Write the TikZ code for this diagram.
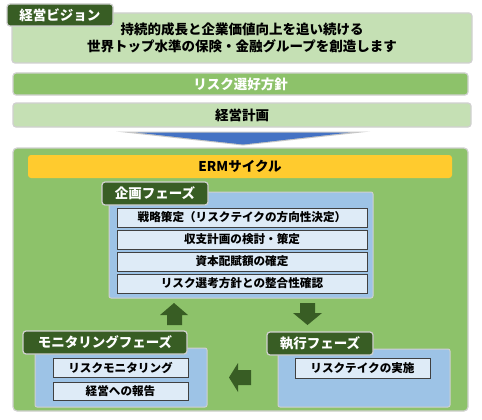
\documentclass[tikz,border=0pt]{standalone}
\usepackage{fontspec}
\setmainfont{Noto Sans CJK JP}
\definecolor{lgreen}{HTML}{C5E0B4}
\definecolor{mgreen}{HTML}{8DC26A}
\definecolor{dgreen}{HTML}{385D24}
\definecolor{gold}{HTML}{FFCB2E}
\definecolor{pblue}{HTML}{9DC3E6}
\definecolor{ibox}{HTML}{DEEBF7}
\definecolor{rim}{HTML}{D0D0D0}
\definecolor{tblue}{HTML}{4472C4}
\tikzset{
  x=1pt, y=-1pt,
  base/.style={anchor=north west, inner sep=0pt, outer sep=0pt, align=center, font=\bfseries\fontsize{13.5}{17}\selectfont},
  lbox/.style={base, fill=lgreen, draw=rim, line width=1.2pt, rounded corners=3pt},
  mbox/.style={base, fill=mgreen, draw=rim, line width=1.2pt, rounded corners=3pt, text=white},
  tag/.style={base, fill=dgreen, draw=rim, line width=1.2pt, rounded corners=3pt, text=white},
  panel/.style={base, fill=pblue, draw=rim, line width=1pt, rounded corners=2pt},
  item/.style={base, fill=ibox, draw=black!75, line width=0.8pt, font=\bfseries\fontsize{11.6}{14}\selectfont},
  blk/.style={fill=dgreen},
}
\begin{document}
\begin{tikzpicture}
\useasboundingbox[fill=white] (0,0) rectangle (482,420);
% vision
\node[lbox, minimum width=460pt, minimum height=50pt] (vision) at (12,13) {持続的成長と企業価値向上を追い続ける\\世界トップ水準の保険・金融グループを創造します};
\node[tag, minimum width=106pt, minimum height=22pt] (visionlab) at (7,4) {経営ビジョン};
\node[mbox, minimum width=455pt, minimum height=22pt] (risk) at (13,73) {リスク選好方針};
\node[lbox, minimum width=458pt, minimum height=24pt] (plan) at (13,103) {経営計画};
\fill[black!22] (116,131.5) -- (370,131.5) -- (243,145.5) -- cycle;
\fill[tblue] (136,132.5) -- (350,132.5) -- (243,144.5) -- cycle;
% ERM
\node[base, fill=mgreen, draw=rim, line width=1.2pt, rounded corners=4pt, minimum width=455pt, minimum height=263pt] (erm) at (13,148) {};
\node[base, fill=gold, rounded corners=3pt, minimum width=424pt, minimum height=23pt] (ermbar) at (28,155) {ERMサイクル};
% planning phase
\node[panel, minimum width=264pt, minimum height=106pt] (ppanel) at (109,192) {};
\node[tag, minimum width=106pt, minimum height=23pt] (plab) at (102,182) {企画フェーズ};
\node[item, minimum width=250pt, minimum height=19pt] (p1) at (117,208) {戦略策定（リスクテイクの方向性決定）};
\node[item, minimum width=250pt, minimum height=19pt] (p2) at (117,230) {収支計画の検討・策定};
\node[item, minimum width=250pt, minimum height=19pt] (p3) at (117,252) {資本配賦額の確定};
\node[item, minimum width=250pt, minimum height=19pt] (p4) at (117,274) {リスク選考方針との整合性確認};
% monitoring phase
\node[panel, minimum width=172pt, minimum height=59pt] (mpanel) at (35,348) {};
\node[tag, minimum width=164pt, minimum height=23pt] (mlab) at (23,331) {モニタリングフェーズ};
\node[item, minimum width=135pt, minimum height=19pt] (m1) at (53,358) {リスクモニタリング};
\node[item, minimum width=135pt, minimum height=18pt] (m2) at (53,382) {経営への報告};
% execution phase
\node[panel, minimum width=172pt, minimum height=58pt] (epanel) at (278,349) {};
\node[tag, minimum width=106pt, minimum height=23pt] (elab) at (267,332) {執行フェーズ};
\node[item, minimum width=135pt, minimum height=20pt] (e1) at (295,358) {リスクテイクの実施};
% block arrows
\fill[blk] (174,303) -- (188,315) -- (182,315) -- (182,325) -- (167,325) -- (167,315) -- (160,315) -- cycle;
\fill[blk] (300,303) -- (315,303) -- (315,313) -- (322,313) -- (307.5,325) -- (293,313) -- (300,313) -- cycle;
\fill[blk] (229,377.5) -- (238,363) -- (238,370) -- (251,370) -- (251,385) -- (238,385) -- (238,392) -- cycle;
\end{tikzpicture}
\end{document}
